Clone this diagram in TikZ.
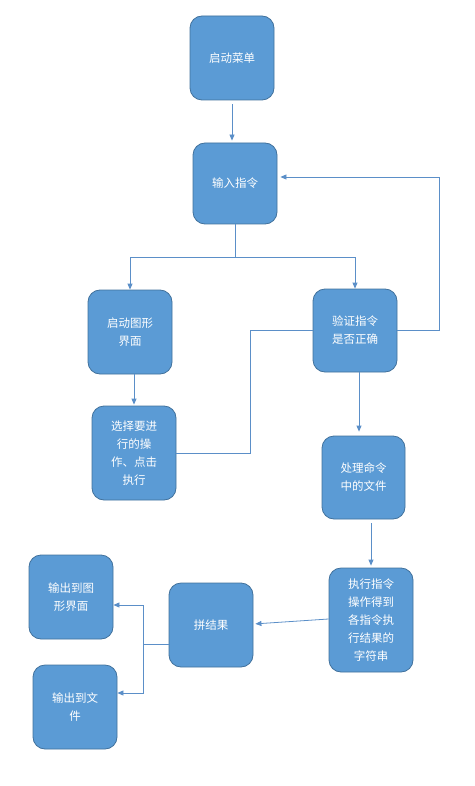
\documentclass[tikz,border=0pt]{standalone}
\usepackage{fontspec}
\newfontfamily\cjk{Noto Sans CJK SC}
\usepackage{tikz}
\usetikzlibrary{arrows.meta, calc}
\definecolor{boxblue}{HTML}{5B9BD5}
\definecolor{boxedge}{HTML}{41719C}
\definecolor{linkblue}{HTML}{5B8FC8}
\tikzset{flowbox/.style={rectangle, rounded corners=12pt, draw=boxedge, fill=boxblue, line width=.8pt, text=white, align=center, inner sep=0pt, minimum width=84pt, minimum height=84pt, font=\cjk\fontsize{11.5}{18}\selectfont},
    link/.style={draw=linkblue, line width=.8pt},
    flow/.style={link, -{Triangle[length=6pt,width=5pt]}}}

\begin{document}
\begin{tikzpicture}[x=1pt, y=-1pt]
                 \useasboundingbox (0,0) rectangle (474,786);

                 \node[flowbox] (menu) at (232,58) {启动菜单};
                 \node[flowbox, minimum height=81pt] (input) at (235,183.5) {输入指令};
                 \node[flowbox] (gui) at (130,332) {启动图形\\界面};
                 \node[flowbox, minimum height=83pt] (check) at (355,330.5) {验证指令\\是否正确};
                 \node[flowbox, minimum height=94pt] (select) at (134,453) {选择要进\\行的操\\作、点击\\执行};
                 \node[flowbox, minimum width=83pt, minimum height=83pt] (proc) at (363.5,477.5) {处理命令\\中的文件};
                 \node[flowbox, minimum height=104pt] (exec) at (371,620) {执行指令\\操作得到\\各指令执\\行结果的\\字符串};
                 \node[flowbox] (merge) at (211,625) {拼结果};
                 \node[flowbox] (outgui) at (71,597) {输出到图\\形界面};
                 \node[flowbox] (outfile) at (75,707) {输出到文\\件};

                 \coordinate (fork) at (235,257);
                 \coordinate (back) at (439,177);
                 \coordinate (split) at (143,644);

                 \draw[flow, shorten <=4pt, shorten >=2pt] (menu.south) -- (menu.south |- input.north);
                 \draw[link] (input.south) -- (fork);
                 \draw[flow] (fork) -| (gui.north);
                 \draw[flow] (fork) -| (check.north);
                 \draw[flow] (check.east) -| (back) -- ($(input.east |- back)+(3,0)$);
                 \draw[link] (check.west) -- ++(-62,0) |- (select.east);
                 \draw[flow, shorten >=1pt] (select.north |- gui.south) -- (select.north);
                 \draw[flow, shorten >=4pt] ([xshift=4pt]check.south) -- ([xshift=-4.5pt]proc.north);
                 \draw[flow, shorten <=4pt, shorten >=2pt] (exec.north |- proc.south) -- (exec.north);
                 \draw[flow, shorten >=2pt] ([yshift=1pt]exec.west) -- ([yshift=1pt]merge.east);
                 \draw[link] (merge.west |- split) -- (split);
                 \draw[flow] (split) |- ([yshift=-8pt]outgui.east);
                 \draw[flow] (split) |- ([yshift=14pt]outfile.east);
             \end{tikzpicture}
\end{document}
